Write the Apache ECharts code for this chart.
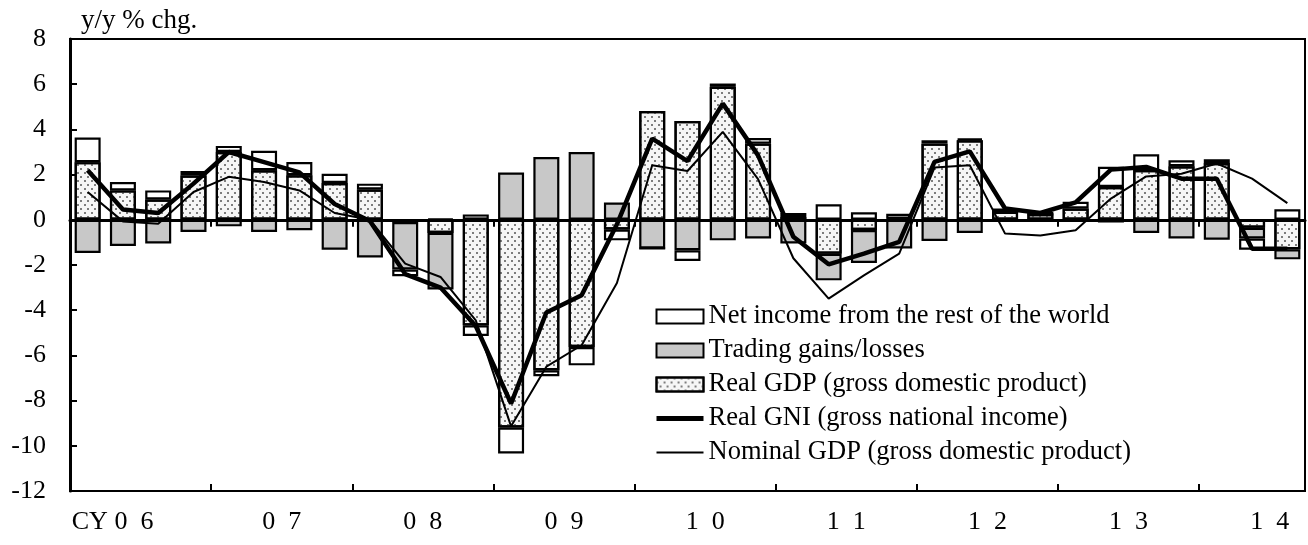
<!DOCTYPE html>
<html>
<head>
<meta charset="utf-8">
<script src="https://cdn.jsdelivr.net/npm/echarts@6/dist/echarts.min.js"></script>
<style>
html,body{margin:0;padding:0;background:#fff;}
#c{width:1308px;height:545px;}
</style>
</head>
<body>
<div id="c"></div>
<script>
// Quarterly categories: 2006 Q1 .. 2014 Q3
var years = ['06','07','08','09','10','11','12','13','14'];
var yearLabels = ['CY 0  6','0  7','0  8','0  9','1  0','1  1','1  2','1  3','1  4'];
var quarters = [];
years.forEach(function (y) { ['Q1','Q2','Q3','Q4'].forEach(function (q) { quarters.push(y + q); }); });
quarters = quarters.slice(0, 35);

var realGDP = [2.55,1.30,0.90,1.96,3.00,2.19,1.97,1.63,1.34,-0.10,-0.58,-4.67,-9.19,-6.66,-5.63,-0.43,
  4.81,4.37,5.88,3.37,0.12,-1.50,-0.45,0.05,3.37,3.52,0.35,0.25,0.50,1.45,2.20,2.37,2.51,-0.35,-1.30];
var tradingGains = [-1.47,-1.16,-1.05,-0.54,-0.29,-0.54,-0.46,-1.32,-1.67,-2.10,-2.50,0.24,2.09,2.78,3.00,0.76,
  -1.27,-1.35,-0.91,-0.83,-1.05,-1.18,-1.46,-1.27,-0.94,-0.58,0.00,0.00,-0.05,-0.12,-0.58,-0.83,-0.88,-0.48,-0.45];
var netIncome = [1.09,0.37,0.40,0.20,0.27,0.86,0.59,0.41,0.26,-0.30,0.05,-0.47,-1.15,-0.26,-0.81,-0.48,
  0.00,-0.47,0.15,0.25,0.18,0.69,0.33,0.22,0.15,0.07,0.15,0.10,0.30,0.90,0.70,0.26,0.17,-0.49,0.47];
var realGNI = [2.19,0.46,0.30,1.60,3.00,2.55,2.10,0.70,-0.05,-2.40,-3.00,-4.70,-8.13,-4.10,-3.34,-0.20,
  3.59,2.60,5.14,2.85,-0.75,-1.97,-1.50,-0.98,2.56,3.03,0.50,0.30,0.77,2.22,2.34,1.82,1.82,-1.28,-1.28];
var nominalGDP = [1.23,-0.07,-0.17,1.23,1.90,1.67,1.30,0.30,0.00,-1.94,-2.53,-4.45,-9.14,-6.50,-5.55,-2.80,
  2.41,2.16,3.89,1.80,-1.70,-3.49,-2.46,-1.50,2.31,2.41,-0.61,-0.69,-0.46,0.94,1.92,2.04,2.49,1.82,0.74];

var names = ['Net income from the rest of the world','Trading gains/losses','Real GDP (gross domestic product)',
  'Real GNI (gross national income)','Nominal GDP (gross domestic product)'];

var FONT = 'Liberation Serif, Times New Roman, serif';
var chart = echarts.init(document.getElementById('c'));
var barBorder = {borderColor:'#000', borderWidth:2.2};
var hiddenSym = {color:'rgba(0,0,0,0)', borderColor:'rgba(0,0,0,0)', borderWidth:0};
chart.setOption({
  animation:false,
  backgroundColor:'#fff',
  textStyle:{fontFamily:FONT, color:'#000'},
  title:{text:'y/y % chg.', left:76, top:2, textStyle:{fontFamily:FONT, fontSize:27, fontWeight:'normal', color:'#000'}},
  grid:{left:70, right:2, top:39, bottom:54, show:true, borderColor:'#000', borderWidth:2, backgroundColor:'transparent'},
  legend:{
    data:[
      {name:names[0], icon:'rect'},
      {name:names[1], icon:'rect'},
      {name:names[2], icon:'rect'},
      {name:names[3], lineStyle:{width:5, color:'#000'}, itemStyle:hiddenSym},
      {name:names[4], lineStyle:{width:2, color:'#000'}, itemStyle:hiddenSym}
    ],
    orient:'vertical', left:649, top:298, itemWidth:47, itemHeight:14, itemGap:7,
    textStyle:{fontFamily:FONT, fontSize:26.5, color:'#000'}
  },
  xAxis:[
    {type:'category', data:quarters, position:'bottom', boundaryGap:true,
     axisLine:{lineStyle:{color:'#000', width:3}},
     axisTick:{show:true, length:7, inside:false, interval:function(i){return i%4===0;}, lineStyle:{color:'#000', width:2}},
     axisLabel:{show:false}, splitLine:{show:false}},
    {type:'category', data:quarters, position:'bottom', boundaryGap:true, gridIndex:0,
     axisLine:{show:false},
     axisTick:{show:true, length:7, inside:true, interval:function(i){return i%4===0;}, lineStyle:{color:'#000', width:2}},
     axisLabel:{show:false}, splitLine:{show:false}},
    {type:'value', min:0, max:quarters.length, interval:1, position:'bottom', gridIndex:0,
     axisLine:{show:false}, axisTick:{show:false}, splitLine:{show:false},
     axisLabel:{show:true, margin:18, fontFamily:FONT, fontSize:26, color:'#000', hideOverlap:false,
       showMinLabel:true, showMaxLabel:true,
       formatter:function(v){
         if (v%4===2){ var k=(v-2)/4; if (k===0) return '{f|'+yearLabels[0]+'}'; return yearLabels[k]||''; }
         return '';
       },
       rich:{f:{fontFamily:FONT, fontSize:26, color:'#000', padding:[0,56,0,0]}}}}
  ],
  yAxis:{type:'value', min:-12, max:8, interval:2,
    axisLine:{show:true, lineStyle:{color:'#000', width:3}},
    axisTick:{show:true, inside:true, length:7, lineStyle:{color:'#000', width:2}},
    axisLabel:{margin:24, fontFamily:FONT, fontSize:26, color:'#000'},
    splitLine:{show:false}},
  series:[
    {name:names[2], type:'bar', stack:'s', data:realGDP, barWidth:26,
     itemStyle:Object.assign({color:'#f6f6f6', decal:{symbol:'circle', symbolSize:1, color:'#555',
        dashArrayX:[[1.4,4.6],[0,3,1.4,1.6]], dashArrayY:[1.4,1.6], rotation:0}}, barBorder)},
    {name:names[1], type:'bar', stack:'s', data:tradingGains, barWidth:26,
     itemStyle:Object.assign({color:'#c8c8c8'}, barBorder)},
    {name:names[0], type:'bar', stack:'s', data:netIncome, barWidth:26,
     itemStyle:Object.assign({color:'#ffffff'}, barBorder),
     markLine:{silent:true, symbol:['none','none'], label:{show:false},
       lineStyle:{color:'#000', width:2.5, type:'solid'}, data:[{yAxis:0}]}},
    {name:names[3], type:'line', data:realGNI, symbol:'none', z:5,
     lineStyle:{color:'#000', width:4.5}, itemStyle:{color:'#000'}},
    {name:names[4], type:'line', data:nominalGDP, symbol:'none', z:4,
     lineStyle:{color:'#000', width:2}, itemStyle:{color:'#000'}}
  ]
});
</script>
</body>
</html>
